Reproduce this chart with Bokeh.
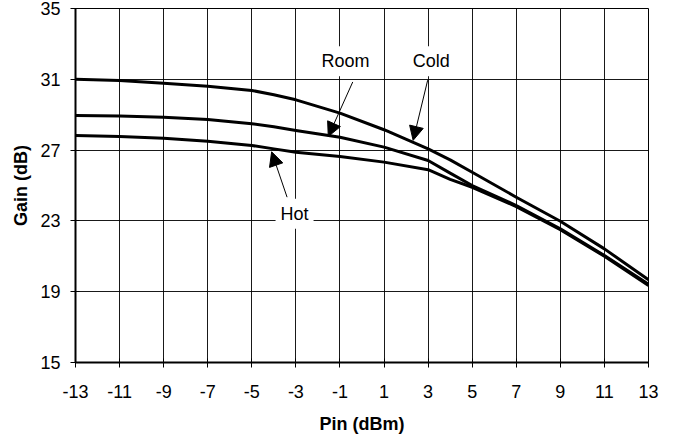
from bokeh.plotting import figure
from bokeh.models import Label, Arrow, NormalHead, FixedTicker, ColumnDataSource
from bokeh.embed import file_html
from bokeh.resources import INLINE

# Data
pin = [-13, -11, -9, -7, -5, -4, -3, -1, 1, 3, 4, 5, 7, 9, 11, 13]
gain_cold = [31.0, 30.93, 30.78, 30.61, 30.37, 30.13, 29.84, 29.09, 28.15, 27.07, 26.45, 25.75, 24.34, 22.98, 21.42, 19.67]
gain_room = [28.95, 28.92, 28.86, 28.73, 28.49, 28.32, 28.11, 27.73, 27.17, 26.41, 25.7, 25.0, 23.87, 22.55, 21.05, 19.42]
gain_hot = [27.82, 27.77, 27.67, 27.5, 27.26, 27.07, 26.88, 26.64, 26.32, 25.89, 25.35, 24.9, 23.81, 22.5, 21.0, 19.35]

x_ticks = [-13, -11, -9, -7, -5, -3, -1, 1, 3, 5, 7, 9, 11, 13]
y_ticks = [15, 19, 23, 27, 31, 35]

# annotation labels: (text, x, y) and arrows (x_start, y_start, x_end, y_end)
label_names = ["Room", "Cold", "Hot"]
label_x = [-0.75, 3.14, -3.06]
label_y = [32.02, 32.02, 23.4]
arrow_x0 = [-0.42, 2.98, -3.40]
arrow_y0 = [30.85, 30.95, 24.34]
arrow_x1 = [-1.53, 2.32, -4.10]
arrow_y1 = [27.77, 27.55, 26.90]

FONT = "Liberation Sans"

p = figure(frame_width=573, frame_height=354, x_range=(-13, 13), y_range=(15, 35),
           output_backend="svg", toolbar_location=None,
           min_border_left=75, min_border_top=8, min_border_right=18, min_border_bottom=70)

src = ColumnDataSource(dict(x=pin, cold=gain_cold, room=gain_room, hot=gain_hot))
for col in ["cold", "room", "hot"]:
    p.line("x", col, source=src, line_color="black", line_width=3, line_join="round")

p.xaxis.ticker = FixedTicker(ticks=x_ticks)
p.yaxis.ticker = FixedTicker(ticks=y_ticks)
p.xgrid.ticker = FixedTicker(ticks=x_ticks)
p.ygrid.ticker = FixedTicker(ticks=y_ticks)
p.xaxis.major_label_overrides = {t: str(t) for t in x_ticks}
p.yaxis.major_label_overrides = {t: str(t) for t in y_ticks}
for g in (p.xgrid, p.ygrid):
    g.grid_line_color = "black"
    g.grid_line_width = 1
    g.grid_line_alpha = 0.9

for ax in (p.xaxis, p.yaxis):
    ax.axis_line_color = "black"
    ax.axis_line_width = 2
    ax.major_tick_line_color = "black"
    ax.major_tick_line_width = 1
    ax.major_tick_in = 4
    ax.major_tick_out = 5
    ax.minor_tick_line_color = None
    ax.major_label_text_font = FONT
    ax.major_label_text_font_size = "18px"
    ax.major_label_text_color = "black"
    ax.axis_label_text_font = FONT
    ax.axis_label_text_font_size = "18px"
    ax.axis_label_text_font_style = "bold"
    ax.axis_label_text_color = "black"

p.xaxis.axis_label = "Pin (dBm)"
p.yaxis.axis_label = "Gain (dB)"
p.xaxis.major_label_standoff = 17
p.xaxis.axis_label_standoff = 13
p.yaxis.major_label_standoff = 10
p.yaxis.axis_label_standoff = 6

p.outline_line_color = "black"
p.outline_line_width = 1
p.outline_line_alpha = 1

for i in range(len(label_names)):
    p.add_layout(Arrow(end=NormalHead(size=14, fill_color="black", line_color="black"),
                       x_start=arrow_x0[i], y_start=arrow_y0[i],
                       x_end=arrow_x1[i], y_end=arrow_y1[i],
                       line_color="black", line_width=1))
    p.add_layout(Label(x=label_x[i], y=label_y[i], text=label_names[i],
                       text_align="center", text_baseline="middle",
                       text_font=FONT, text_font_size="18px", text_color="black",
                       background_fill_color="white", padding=5))

open("out.html", "w").write(file_html(p, INLINE))
